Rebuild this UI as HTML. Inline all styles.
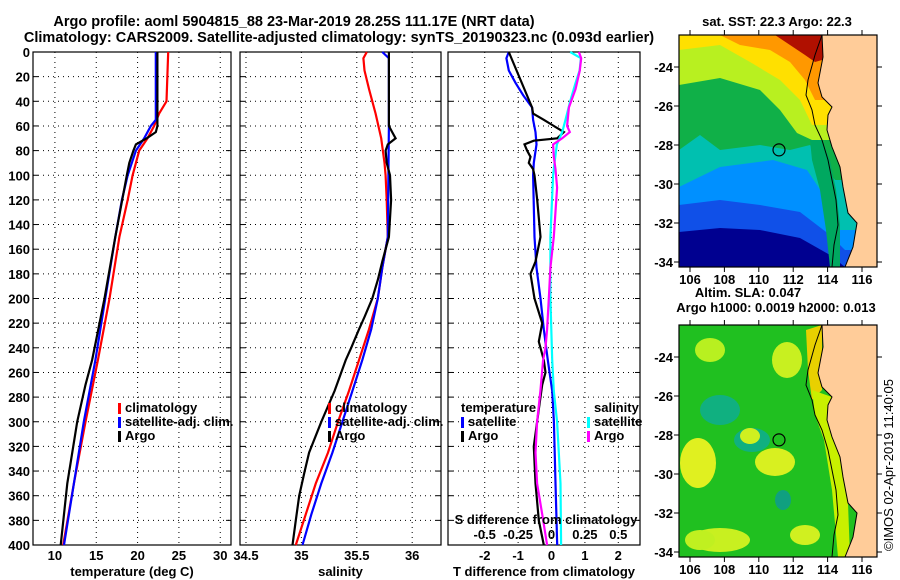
<!DOCTYPE html>
<html><head><meta charset="utf-8">
<style>
html,body{margin:0;padding:0;background:#fff;}
svg{display:block;font-family:"Liberation Sans",sans-serif;font-weight:bold;}
text{font-size:13px;fill:#000;}
.ttl{font-size:14.5px;}
</style></head>
<body>
<svg id="chart" width="900" height="580" viewBox="0 0 900 580" xmlns="http://www.w3.org/2000/svg">
<text class="ttl" x="294" y="26" text-anchor="middle">Argo profile: aoml 5904815_88 23-Mar-2019 28.25S 111.17E (NRT data)</text>
<text class="ttl" x="339" y="42" text-anchor="middle">Climatology: CARS2009. Satellite-adjusted climatology: synTS_20190323.nc (0.093d earlier)</text>
<g id="panels"></g>
<g id="maps"></g>
<text x="0" y="0" transform="translate(893,465) rotate(-90)" text-anchor="middle" style="font-weight:normal">©IMOS 02-Apr-2019 11:40:05</text>
</svg>
<script>
// ---- data ----
const depthTicks=[0,20,40,60,80,100,120,140,160,180,200,220,240,260,280,300,320,340,360,380,400];
const tempTicks=[10,15,20,25,30];
const salTicks=[34.5,35,35.5,36];
const tdiffTicks=[-2,-1,0,1,2];
const sdiffTicks=[-0.5,-0.25,0,0.25,0.5];
const sdiffTickLabels=["-0.5","-0.25","0","0.25","0.5"];

const climTdepth=[0,40,50,60,70,80,100,120,150,200,250,300,350,400];
const climT=[23.7,23.5,22.6,22.0,21.2,20.2,19.4,18.8,17.8,16.6,15.2,13.7,12.3,11.0];
const satTdepth=[0,55,60,70,80,100,120,150,200,250,300,350,400];
const satT=[22.2,22.2,21.6,20.8,19.8,18.8,18.1,17.3,16.1,14.9,13.5,12.3,11.1];
const argoTdepth=[0,60,65,70,75,80,90,100,150,200,250,270,300,350,400];
const argoT=[22.4,22.4,22.2,21.1,19.8,19.5,19.0,18.7,17.3,16.0,14.5,13.7,12.7,11.5,10.7];

const climSdepth=[0,5,15,30,50,70,90,100,120,150,175,200,225,250,275,300,325,350,375,400];
const climS=[35.59,35.56,35.57,35.61,35.67,35.72,35.75,35.76,35.77,35.78,35.73,35.69,35.61,35.52,35.43,35.33,35.24,35.13,35.04,34.95];
const satSdepth=[0,5,60,150,160,175,200,225,250,275,300,325,350,375,400];
const satS=[35.73,35.79,35.79,35.78,35.76,35.73,35.69,35.63,35.55,35.46,35.37,35.28,35.18,35.09,35.01];
const argoSdepth=[0,60,65,70,75,80,90,100,120,150,170,185,200,215,225,240,250,275,300,325,340,360,380,400];
const argoS=[35.79,35.79,35.82,35.85,35.78,35.76,35.77,35.80,35.81,35.79,35.73,35.69,35.64,35.57,35.52,35.45,35.40,35.30,35.18,35.07,35.03,34.98,34.95,34.92];

const dTdepth=[0,5,15,25,35,45,55,65,75,90,100,150,175,200,225,250,275,300,350,400];
const dTsat=[-1.28,-1.35,-1.28,-1.08,-0.85,-0.58,-0.55,-0.48,-0.45,-0.53,-0.55,-0.51,-0.45,-0.33,-0.23,-0.11,0.02,0.07,0.12,0.17];
const dTargoDepth=[0,45,50,55,60,65,70,72,75,80,85,90,95,100,120,150,170,180,200,220,235,250,260,270,290,320,350,380,400];
const dTargo=[-1.28,-0.58,-0.55,-0.23,0.07,0.37,0.17,-0.53,-0.81,-0.73,-0.63,-0.68,-0.55,-0.51,-0.43,-0.33,-0.48,-0.63,-0.51,-0.28,-0.38,-0.23,-0.18,-0.28,-0.38,-0.53,-0.48,-0.38,-0.23];
const dSdepth=[0,5,15,25,40,55,65,75,90,100,150,200,250,275,300,350,400];
const dSsat=[0.14,0.22,0.21,0.18,0.14,0.105,0.08,0.04,0.022,0.012,-0.008,-0.008,0.005,0.017,0.042,0.067,0.072];
const dSargoDepth=[0,5,15,30,45,60,65,70,75,85,95,110,150,175,200,225,240,250,275,300,325,350,375,400];
const dSargo=[0.205,0.222,0.212,0.18,0.13,0.117,0.137,0.08,0.012,0.017,0.03,0.042,0.017,-0.008,-0.02,-0.033,-0.045,-0.063,-0.083,-0.108,-0.12,-0.108,-0.07,-0.033];

const NS="http://www.w3.org/2000/svg";
function mk(tag,attrs,parent){const e=document.createElementNS(NS,tag);for(const k in attrs)e.setAttribute(k,attrs[k]);parent.appendChild(e);return e;}
const panelsG=document.getElementById('panels');
const Y0=52,Y1=545;
function yD(d){return Y0+(d/400)*(Y1-Y0);}

function panel(name,x0,x1,vmin,vmax,ticks,tickLabels,title){
  const g=mk('g',{},panelsG);
  
  
  const xs=v=>x0+(v-vmin)/(vmax-vmin)*(x1-x0);
  depthTicks.forEach((d,i)=>{
    if(i>0&&i<depthTicks.length-1){const l=mk('line',{x1:x0,x2:x1,y1:yD(d),y2:yD(d),stroke:'#000','stroke-width':1,'stroke-dasharray':'1,4'},g);
    
    }
    mk('line',{x1:x0,x2:x0+5,y1:yD(d),y2:yD(d),stroke:'#000'},g);
    mk('line',{x1:x1-5,x2:x1,y1:yD(d),y2:yD(d),stroke:'#000'},g);
  });
  ticks.forEach((t,i)=>{
    const x=xs(t);
    const l=mk('line',{x1:x,x2:x,y1:Y0,y2:Y1,stroke:'#000','stroke-dasharray':'1,4'},g);
    
    
    if(tickLabels){const tx=mk('text',{x:x,y:560,'text-anchor':'middle'},g);tx.textContent=tickLabels[i];
    
    }
  });
  mk('rect',{x:x0,y:Y0,width:x1-x0,height:Y1-Y0,fill:'none',stroke:'#000','stroke-width':1.2},g);
  const tt=mk('text',{x:(x0+x1)/2,y:576,'text-anchor':'middle'},g);tt.textContent=title;
  
  
  return {g,xs};
}
function series(p,name,depths,vals,color,scale){
  const pts=depths.map((d,i)=>p.xs(vals[i]*(scale||1)).toFixed(1)+','+yD(d).toFixed(1)).join(' ');
  const pl=mk('polyline',{points:pts,fill:'none',stroke:color,'stroke-width':2.2},p.g);
  
  
}
function legend(p,x,y,items){
  items.forEach((it,i)=>{
    if(it[1]) mk('rect',{x:x,y:y+i*14-9,width:3,height:11,fill:it[1]},p.g);
    const t=mk('text',{x:x+(it[1]?7:0),y:y+i*14},p.g);t.textContent=it[0];
    
    
  });
}
depthTicks.forEach(d=>{const t=mk('text',{x:30,y:yD(d)+5,'text-anchor':'end'},panelsG);t.textContent=d;

});

const p1=panel('temperature-panel',33,231,7.35,31.3,tempTicks,tempTicks.map(String),'temperature (deg C)');
series(p1,'climatology-temperature',climTdepth,climT,'#ff0000');
series(p1,'satellite-temperature',satTdepth,satT,'#0000ff');
series(p1,'argo-temperature',argoTdepth,argoT,'#000000');
legend(p1,118,412,[['climatology','#ff0000'],['satellite-adj. clim.','#0000ff'],['Argo','#000']]);

const p2=panel('salinity-panel',240,441,34.446,36.26,salTicks,salTicks.map(String),'salinity');
series(p2,'climatology-salinity',climSdepth,climS,'#ff0000');
series(p2,'satellite-salinity',satSdepth,satS,'#0000ff');
series(p2,'argo-salinity',argoSdepth,argoS,'#000000');
legend(p2,328,412,[['climatology','#ff0000'],['satellite-adj. clim.','#0000ff'],['Argo','#000']]);

const p3=panel('difference-panel',448,640,-3.1,2.65,tdiffTicks,tdiffTicks.map(String),'T difference from climatology');
series(p3,'satellite-temp-diff',dTdepth,dTsat,'#0000ff');
series(p3,'argo-temp-diff',dTargoDepth,dTargo,'#000000');
series(p3,'satellite-sal-diff',dSdepth,dSsat,'#00ffff',4);
series(p3,'argo-sal-diff',dSargoDepth,dSargo,'#ff00ff',4);
legend(p3,461,412,[['temperature',null]]);
legend(p3,461,426,[['satellite','#0000ff'],['Argo','#000']]);
legend(p3,594,412,[['salinity',null]]);
legend(p3,587,426,[['satellite','#00ffff'],['Argo','#ff00ff']]);
{const t=mk('text',{x:546,y:524,'text-anchor':'middle'},p3.g);t.textContent='S difference from climatology';


sdiffTicks.forEach((s,i)=>{const tx=mk('text',{x:p3.xs(s*4),y:539,'text-anchor':'middle'},p3.g);tx.textContent=sdiffTickLabels[i];

});}

// ---- maps ----
const mapsG=document.getElementById('maps');
const MX0=679,MX1=877;
const lonTicks=[106,108,110,112,114,116];
const latTicks=[-24,-26,-28,-30,-32,-34];
const lonX=l=>690+(l-106)*17.2;
const coast="822,35 823,57 818,83 822,97 832,107 828,115 827,130 832,147 840,167 843,187 848,213 857,223 853,247 845,267 877,267 877,35";
const coastLine="822,35 815,55 808,80 806,95 812,110 815,125 822,140 828,160 832,180 836,200 838,225 834,245 832,267";
function map(name,oy,layers,title1,title2,blobs){
  const g=mk('g',{},mapsG);
  
  
  const latY=l=>oy+67+(-24-l)*19.5;
  const cp=mk('clipPath',{id:'cp'+oy},g);mk('rect',{x:MX0,y:oy+35,width:MX1-MX0,height:232},cp);
  const inner=mk('g',{'clip-path':'url(#cp'+oy+')'},g);
  layers.forEach(L=>mk('polygon',{points:L[0],fill:L[1],transform:'translate(0,'+oy+')'},inner));
  (blobs||[]).forEach(b=>mk('ellipse',{cx:b[0],cy:b[1]+oy,rx:b[2],ry:b[3],fill:b[4]},inner));
  const land=mk('polygon',{points:coast,fill:'#ffcc99',transform:'translate(0,'+oy+')'},inner);
  
  
  mk('polyline',{points:coast.split(' ').slice(0,14).join(' '),fill:'none',stroke:'#000','stroke-width':1,transform:'translate(0,'+oy+')'},inner);
  mk('polyline',{points:coastLine,fill:'none',stroke:'#000','stroke-width':1,transform:'translate(0,'+oy+')'},inner);
  const c=mk('circle',{cx:779,cy:latY(-28.25),r:6,fill:'none',stroke:'#000','stroke-width':1.2},g);
  
  
  mk('rect',{x:MX0,y:oy+35,width:MX1-MX0,height:232,fill:'none',stroke:'#000','stroke-width':1.2},g);
  lonTicks.forEach(l=>{const x=lonX(l);mk('line',{x1:x,x2:x,y1:oy+267,y2:oy+272,stroke:'#000'},g);mk('line',{x1:x,x2:x,y1:oy+30,y2:oy+35,stroke:'#000'},g);
    const t=mk('text',{x:x,y:oy+284,'text-anchor':'middle'},g);t.textContent=l;
    
    });
  latTicks.forEach(l=>{const y=latY(l);mk('line',{x1:MX0-5,x2:MX0,y1:y,y2:y,stroke:'#000'},g);mk('line',{x1:MX1,x2:MX1+5,y1:y,y2:y,stroke:'#000'},g);
    const t=mk('text',{x:673,y:y+5,'text-anchor':'end'},g);t.textContent=l;
    
    });
  const t1=mk('text',{x:title2?748:777,y:title2?oy+7:oy+26,'text-anchor':'middle'},g);t1.textContent=title1;
  
  
  if(title2){const t2=mk('text',{x:776,y:oy+22,'text-anchor':'middle'},g);t2.textContent=title2;
  
  }
}
function TOP(pts){const a=pts.split(' ');const fy=a[0].split(',')[1],ly=a[a.length-1].split(',')[1];
  return '679,'+fy+' '+pts+' 877,'+ly+' 877,0 679,0';}
map('sst-map',0,[
 ['679,0 877,0 877,300 679,300','#000090'],
 [TOP('679,232 720,228 760,230 800,238 830,255 845,267'),'#1050e8'],
 [TOP('679,205 720,200 760,205 800,212 830,235 845,250'),'#0090ff'],
 [TOP('679,187 720,167 773,160 807,170 827,200 840,230'),'#00c0b0'],
 [TOP('679,150 700,135 720,150 760,145 790,150 810,145 835,180'),'#10b048'],
 [TOP('679,85 720,78 760,90 780,110 797,133 812,140'),'#b8f020'],
 [TOP('679,50 720,45 750,62 780,80 800,100 812,125'),'#ffe000'],
 [TOP('679,35 720,35 740,45 770,50 790,62 805,80 815,100'),'#ff9800'],
 [TOP('679,20 775,35 790,45 805,55 815,62 822,60'),'#b01000'],
 ['810,140 822,140 830,160 836,190 840,225 840,267 830,267 826,230 820,190 812,160','#00a860']
],'sat. SST: 22.3 Argo: 22.3',null,[]);
map('sla-map',290,[
 ['679,0 877,0 877,300 679,300','#20c020'],
 ['806,40 822,35 822,100 812,110 808,80','#e8d000'],
 ['812,100 832,107 840,167 848,213 850,267 838,267 832,200 824,150 815,125','#c8f000']
],'Altim. SLA: 0.047','Argo h1000: 0.0019 h2000: 0.013',[
 [710,60,15,12,'#b8f020'],[787,70,15,18,'#c8f020'],[720,120,20,15,'#10b080'],[752,150,18,12,'#10b080'],
 [750,146,10,8,'#d0f020'],[698,173,18,25,'#e0f020'],[775,172,20,14,'#d8f020'],[783,210,8,10,'#10a080'],
 [720,250,30,12,'#c8f020'],[805,245,15,10,'#d0f020'],[700,250,15,10,'#c0f020']
]);
</script>
</body></html>
